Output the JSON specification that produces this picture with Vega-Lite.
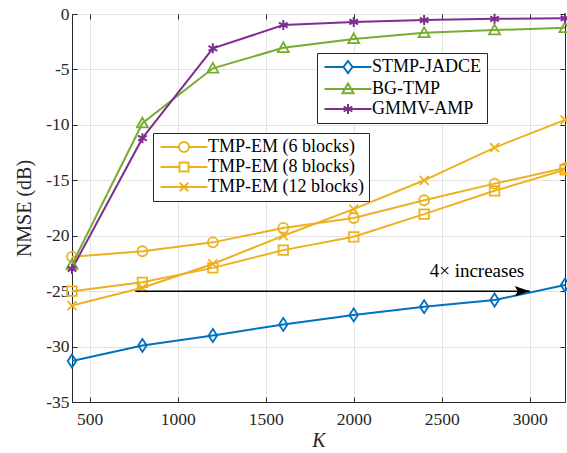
{
  "$schema": "https://vega.github.io/schema/vega-lite/v6.json",
  "width": 493,
  "height": 388,
  "autosize": {"type": "none"},
  "padding": {"left": 72, "top": 14, "right": 2, "bottom": 51},
  "background": "white",
  "config": {
    "font": "Liberation Serif",
    "view": {"stroke": "#262626", "strokeWidth": 1},
    "axis": {
      "labelFont": "Liberation Serif",
      "titleFont": "Liberation Serif",
      "labelFontSize": 17.5,
      "titleFontSize": 20,
      "titleFontWeight": "normal",
      "labelColor": "#262626",
      "titleColor": "#262626",
      "domainColor": "#262626",
      "tickColor": "#262626",
      "gridColor": "#e3e3e3",
      "gridWidth": 1
    },
    "legend": {
      "labelFont": "Liberation Serif",
      "labelFontSize": 18,
      "labelColor": "#000000",
      "fillColor": "white",
      "strokeColor": "#262626",
      "orient": "none",
      "symbolSize": 100,
      "symbolStrokeWidth": 2,
      "symbolOffset": 17,
      "padding": 5,
      "rowPadding": 2,
      "labelOffset": 15,
      "title": null
    }
  },
  "datasets": {
    "curves": [
      {"K": 400, "nmse": -31.3, "series": "STMP-JADCE"},
      {"K": 800, "nmse": -29.9, "series": "STMP-JADCE"},
      {"K": 1200, "nmse": -29.0, "series": "STMP-JADCE"},
      {"K": 1600, "nmse": -28.0, "series": "STMP-JADCE"},
      {"K": 2000, "nmse": -27.15, "series": "STMP-JADCE"},
      {"K": 2400, "nmse": -26.4, "series": "STMP-JADCE"},
      {"K": 2800, "nmse": -25.8, "series": "STMP-JADCE"},
      {"K": 3200, "nmse": -24.45, "series": "STMP-JADCE"},
      {"K": 400, "nmse": -22.6, "series": "BG-TMP"},
      {"K": 800, "nmse": -9.85, "series": "BG-TMP"},
      {"K": 1200, "nmse": -4.9, "series": "BG-TMP"},
      {"K": 1600, "nmse": -3.05, "series": "BG-TMP"},
      {"K": 2000, "nmse": -2.25, "series": "BG-TMP"},
      {"K": 2400, "nmse": -1.7, "series": "BG-TMP"},
      {"K": 2800, "nmse": -1.45, "series": "BG-TMP"},
      {"K": 3200, "nmse": -1.25, "series": "BG-TMP"},
      {"K": 400, "nmse": -23.0, "series": "GMMV-AMP"},
      {"K": 800, "nmse": -11.2, "series": "GMMV-AMP"},
      {"K": 1200, "nmse": -3.1, "series": "GMMV-AMP"},
      {"K": 1600, "nmse": -1.0, "series": "GMMV-AMP"},
      {"K": 2000, "nmse": -0.72, "series": "GMMV-AMP"},
      {"K": 2400, "nmse": -0.55, "series": "GMMV-AMP"},
      {"K": 2800, "nmse": -0.43, "series": "GMMV-AMP"},
      {"K": 3200, "nmse": -0.39, "series": "GMMV-AMP"},
      {"K": 400, "nmse": -21.9, "series": "TMP-EM (6 blocks)"},
      {"K": 800, "nmse": -21.4, "series": "TMP-EM (6 blocks)"},
      {"K": 1200, "nmse": -20.6, "series": "TMP-EM (6 blocks)"},
      {"K": 1600, "nmse": -19.3, "series": "TMP-EM (6 blocks)"},
      {"K": 2000, "nmse": -18.4, "series": "TMP-EM (6 blocks)"},
      {"K": 2400, "nmse": -16.8, "series": "TMP-EM (6 blocks)"},
      {"K": 2800, "nmse": -15.3, "series": "TMP-EM (6 blocks)"},
      {"K": 3200, "nmse": -13.9, "series": "TMP-EM (6 blocks)"},
      {"K": 400, "nmse": -25.0, "series": "TMP-EM (8 blocks)"},
      {"K": 800, "nmse": -24.2, "series": "TMP-EM (8 blocks)"},
      {"K": 1200, "nmse": -22.9, "series": "TMP-EM (8 blocks)"},
      {"K": 1600, "nmse": -21.3, "series": "TMP-EM (8 blocks)"},
      {"K": 2000, "nmse": -20.1, "series": "TMP-EM (8 blocks)"},
      {"K": 2400, "nmse": -18.05, "series": "TMP-EM (8 blocks)"},
      {"K": 2800, "nmse": -15.95, "series": "TMP-EM (8 blocks)"},
      {"K": 3200, "nmse": -14.05, "series": "TMP-EM (8 blocks)"},
      {"K": 400, "nmse": -26.3, "series": "TMP-EM (12 blocks)"},
      {"K": 800, "nmse": -24.7, "series": "TMP-EM (12 blocks)"},
      {"K": 1200, "nmse": -22.55, "series": "TMP-EM (12 blocks)"},
      {"K": 1600, "nmse": -20.0, "series": "TMP-EM (12 blocks)"},
      {"K": 2000, "nmse": -17.6, "series": "TMP-EM (12 blocks)"},
      {"K": 2400, "nmse": -15.0, "series": "TMP-EM (12 blocks)"},
      {"K": 2800, "nmse": -12.05, "series": "TMP-EM (12 blocks)"},
      {"K": 3200, "nmse": -9.55, "series": "TMP-EM (12 blocks)"}
    ],
    "arrow": [{"K": 760, "K2": 3000, "nmse": -25}],
    "note": [{"K": 2700, "nmse": -23.7, "label": "4× increases"}]
  },
  "layer": [
    {
      "data": {"name": "curves"},
      "transform": [{"filter": {"field": "series", "oneOf": ["TMP-EM (6 blocks)", "TMP-EM (8 blocks)", "TMP-EM (12 blocks)"]}}],
      "encoding": {
        "x": {"field": "K", "type": "quantitative", "scale": {"domain": [400, 3200], "nice": false, "zero": false},
          "axis": {"orient": "top", "labels": false, "grid": false, "domain": false, "tickSize": -5, "values": [500, 1000, 1500, 2000, 2500, 3000], "title": null}},
        "y": {"field": "nmse", "type": "quantitative", "scale": {"domain": [-35, 0], "nice": false, "zero": false},
          "axis": {"orient": "right", "labels": false, "grid": false, "domain": false, "tickSize": -5, "values": [0, -5, -10, -15, -20, -25, -30, -35], "title": null}},
        "color": {"field": "series", "type": "nominal",
          "scale": {"domain": ["TMP-EM (6 blocks)", "TMP-EM (8 blocks)", "TMP-EM (12 blocks)"], "range": ["#EDB120", "#EDB120", "#EDB120"]},
          "legend": {"legendX": 81, "legendY": 119,
            "encode": {"symbols": {"update": {
              "fill": {"value": "transparent"},
              "strokeWidth": {"value": 2},
              "shape": {"signal": "datum.value === 'TMP-EM (6 blocks)' ? 'M-4.7,0H-1M1,0H4.7M1,0A1,1 0 1,0 -1,0A1,1 0 1,0 1,0Z' : datum.value === 'TMP-EM (8 blocks)' ? 'M-4.7,0H-0.9M0.9,0H4.7M-0.9,-0.9H0.9V0.9H-0.9Z' : 'M-4.7,0H4.7M-0.85,-0.85L0.85,0.85M-0.85,0.85L0.85,-0.85'"}
            }}}}}
      },
      "layer": [
        {"mark": {"type": "line", "strokeWidth": 2}},
        {"transform": [{"filter": {"field": "series", "equal": "TMP-EM (6 blocks)"}}],
          "mark": {"type": "point", "shape": "circle", "filled": false, "strokeWidth": 1.8, "opacity": 1, "size": 100}},
        {"transform": [{"filter": {"field": "series", "equal": "TMP-EM (8 blocks)"}}],
          "mark": {"type": "point", "shape": "square", "filled": false, "strokeWidth": 1.8, "opacity": 1, "size": 90}},
        {"transform": [{"filter": {"field": "series", "equal": "TMP-EM (12 blocks)"}}],
          "mark": {"type": "point", "shape": "M-0.9,-0.9L0.9,0.9M-0.9,0.9L0.9,-0.9", "filled": false, "strokeWidth": 1.8, "opacity": 1, "size": 100}}
      ]
    },
    {
      "data": {"name": "curves"},
      "transform": [{"filter": {"field": "series", "oneOf": ["STMP-JADCE", "BG-TMP", "GMMV-AMP"]}}],
      "encoding": {
        "x": {"field": "K", "type": "quantitative", "scale": {"domain": [400, 3200], "nice": false, "zero": false},
          "axis": {"orient": "bottom", "values": [500, 1000, 1500, 2000, 2500, 3000], "grid": true, "tickSize": -5, "labelPadding": 13, "title": "K", "titleFontStyle": "italic", "titlePadding": 3, "format": "d"}},
        "y": {"field": "nmse", "type": "quantitative", "scale": {"domain": [-35, 0], "nice": false, "zero": false},
          "axis": {"orient": "left", "values": [0, -5, -10, -15, -20, -25, -30, -35], "grid": true, "tickSize": -5, "labelPadding": 8, "title": "NMSE (dB)", "titlePadding": 11,
            "labelExpr": "replace(datum.label, '−', '-')"}},
        "color": {"field": "series", "type": "nominal",
          "scale": {"domain": ["STMP-JADCE", "BG-TMP", "GMMV-AMP"], "range": ["#0072BD", "#77AC30", "#7E2F8E"]},
          "legend": {"legendX": 245, "legendY": 39,
            "encode": {"symbols": {"update": {
              "fill": {"value": "transparent"},
              "strokeWidth": {"value": 2},
              "shape": {"signal": "datum.value === 'STMP-JADCE' ? 'M-4.7,0H-0.9M0.9,0H4.7M0,-1.2L0.9,0L0,1.2L-0.9,0Z' : datum.value === 'BG-TMP' ? 'M-4.7,0H4.7M0,-1.1L1.1,0.85L-1.1,0.85Z' : 'M-4.7,0H4.7M0,-1V1M-0.87,-0.5L0.87,0.5M-0.87,0.5L0.87,-0.5'"}
            }}}}}
      },
      "layer": [
        {"mark": {"type": "line", "strokeWidth": 2}},
        {"transform": [{"filter": {"field": "series", "equal": "STMP-JADCE"}}],
          "mark": {"type": "point", "shape": "M0,-1.3L0.85,0L0,1.3L-0.85,0Z", "filled": false, "strokeWidth": 1.8, "opacity": 1, "size": 100}},
        {"transform": [{"filter": {"field": "series", "equal": "BG-TMP"}}],
          "mark": {"type": "point", "shape": "M0,-1.1L1.1,0.85L-1.1,0.85Z", "filled": false, "strokeWidth": 1.8, "opacity": 1, "size": 100}},
        {"transform": [{"filter": {"field": "series", "equal": "GMMV-AMP"}}],
          "mark": {"type": "point", "shape": "M0,-1V1M-0.87,-0.5L0.87,0.5M-0.87,0.5L0.87,-0.5", "filled": false, "strokeWidth": 2, "opacity": 1, "size": 100}}
      ]
    },
    {
      "data": {"name": "arrow"},
      "mark": {"type": "rule", "color": "black", "strokeWidth": 1.5},
      "encoding": {
        "x": {"field": "K", "type": "quantitative", "axis": null},
        "x2": {"field": "K2"},
        "y": {"field": "nmse", "type": "quantitative", "axis": null}
      }
    },
    {
      "data": {"name": "arrow"},
      "mark": {"type": "point", "shape": "M0,0L-2,-0.67L-1.6,0L-2,0.67Z", "filled": true, "color": "black", "size": 225, "opacity": 1, "strokeWidth": 0},
      "encoding": {
        "x": {"field": "K2", "type": "quantitative", "axis": null},
        "y": {"field": "nmse", "type": "quantitative", "axis": null}
      }
    },
    {
      "data": {"name": "note"},
      "mark": {"type": "text", "font": "Liberation Serif", "fontSize": 19, "align": "center", "baseline": "alphabetic", "color": "black"},
      "encoding": {
        "x": {"field": "K", "type": "quantitative", "axis": null},
        "y": {"field": "nmse", "type": "quantitative", "axis": null},
        "text": {"field": "label"}
      }
    }
  ],
  "resolve": {"scale": {"color": "independent"}, "legend": {"color": "independent"}}
}
